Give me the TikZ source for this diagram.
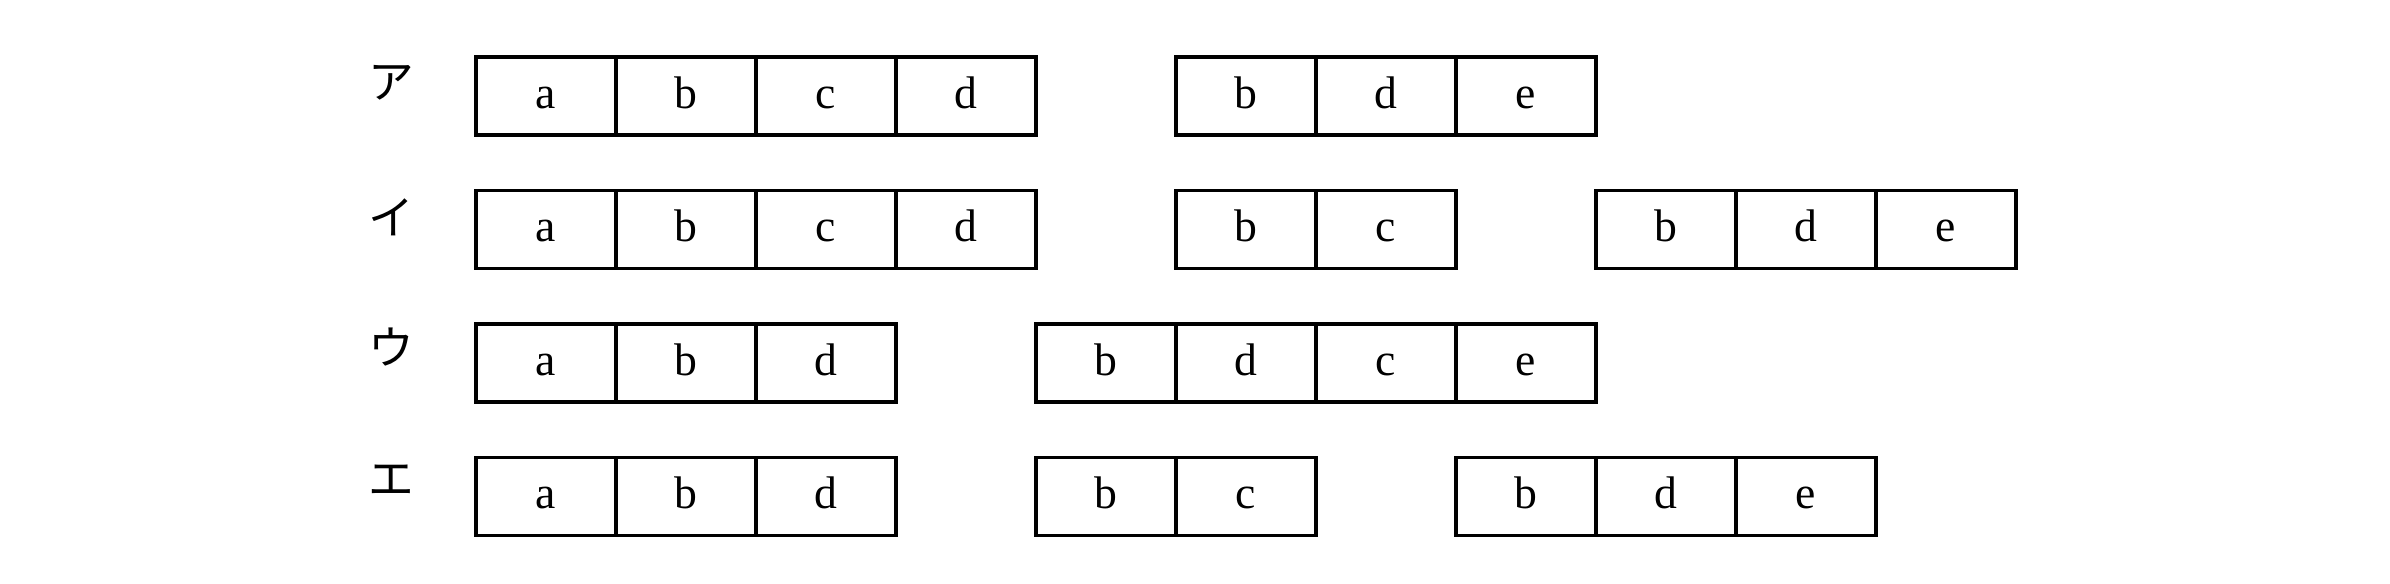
\documentclass[tikz,border=0pt]{standalone}
\usepackage{fontspec}
\setmainfont{Liberation Serif}
\newfontfamily\jpfont{Noto Sans CJK JP}

\begin{document}
\begin{tikzpicture}[
    cell/.style={draw, rectangle, line width=0.9pt, minimum width=1.4cm, minimum height=0.78cm,
                 inner sep=0pt, outer sep=0pt, text height=0.69em, text depth=0pt,
                 font=\fontsize{13}{15}\selectfont},
    tag/.style={font=\jpfont\fontsize{13}{15}\selectfont}
]
\useasboundingbox (0,0) rectangle (23.9,5.84);

% row A
\node[tag] (ta) at (3.91,5.01) {ア};
\foreach \t [count=\i] in {a,b,c,d}
  \node[cell] (r1b1c\i) at ({4.06+1.4*\i},4.88) {\t};
\foreach \t [count=\i] in {b,d,e}
  \node[cell] (r1b2c\i) at ({4.06+1.4*(\i+5)},4.88) {\t};

% row I
\node[tag] (ti) at (3.91,3.67) {イ};
\foreach \t [count=\i] in {a,b,c,d}
  \node[cell] (r2b1c\i) at ({4.06+1.4*\i},3.545) {\t};
\foreach \t [count=\i] in {b,c}
  \node[cell] (r2b2c\i) at ({4.06+1.4*(\i+5)},3.545) {\t};
\foreach \t [count=\i] in {b,d,e}
  \node[cell] (r2b3c\i) at ({4.06+1.4*(\i+8)},3.545) {\t};

% row U
\node[tag] (tu) at (3.91,2.37) {ウ};
\foreach \t [count=\i] in {a,b,d}
  \node[cell] (r3b1c\i) at ({4.06+1.4*\i},2.21) {\t};
\foreach \t [count=\i] in {b,d,c,e}
  \node[cell] (r3b2c\i) at ({4.06+1.4*(\i+4)},2.21) {\t};

% row E
\node[tag] (te) at (3.91,1.04) {エ};
\foreach \t [count=\i] in {a,b,d}
  \node[cell] (r4b1c\i) at ({4.06+1.4*\i},0.875) {\t};
\foreach \t [count=\i] in {b,c}
  \node[cell] (r4b2c\i) at ({4.06+1.4*(\i+4)},0.875) {\t};
\foreach \t [count=\i] in {b,d,e}
  \node[cell] (r4b3c\i) at ({4.06+1.4*(\i+7)},0.875) {\t};

\end{tikzpicture}
\end{document}
